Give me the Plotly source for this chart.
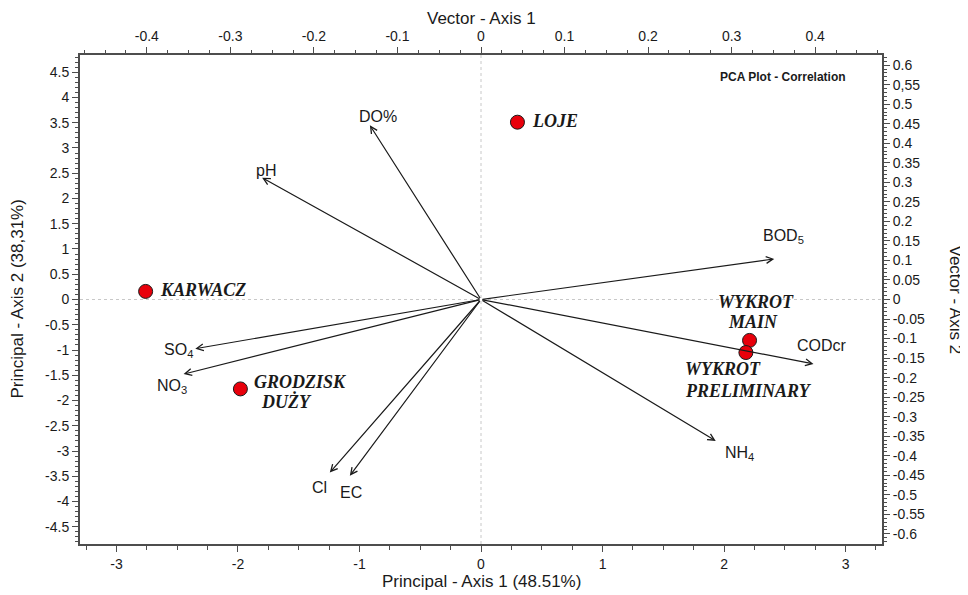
import plotly.graph_objects as go

# ---------------- data ----------------
site_names = ["KARWACZ", "LOJE", "GRODZISK DUŻY", "WYKROT MAIN", "WYKROT PRELIMINARY"]
site_x = [-2.76, 0.30, -1.98, 2.21, 2.18]
site_y = [0.16, 3.51, -1.77, -0.81, -1.05]

vec_names = ["DO%", "pH", "BOD<sub>5</sub>", "CODcr", "NH<sub>4</sub>",
             "SO<sub>4</sub>", "NO<sub>3</sub>", "Cl", "EC"]
vec_x = [-0.133, -0.262, 0.351, 0.398, 0.281, -0.342, -0.356, -0.181, -0.157]
vec_y = [0.446, 0.312, 0.104, -0.165, -0.362, -0.126, -0.191, -0.443, -0.451]

x1_vals = [-3, -2, -1, 0, 1, 2, 3]
x1_text = ["-3", "-2", "-1", "0", "1", "2", "3"]
y1_vals = [4.5, 4, 3.5, 3, 2.5, 2, 1.5, 1, 0.5, 0, -0.5, -1, -1.5, -2, -2.5, -3, -3.5, -4, -4.5]
y1_text = ["4.5", "4", "3.5", "3", "2.5", "2", "1.5", "1", "0.5", "0", "-0.5", "-1", "-1.5",
           "-2", "-2.5", "-3", "-3.5", "-4", "-4.5"]
x2_vals = [-0.4, -0.3, -0.2, -0.1, 0, 0.1, 0.2, 0.3, 0.4]
x2_text = ["-0.4", "-0.3", "-0.2", "-0.1", "0", "0.1", "0.2", "0.3", "0.4"]
y2_vals = [0.6, 0.55, 0.5, 0.45, 0.4, 0.35, 0.3, 0.25, 0.2, 0.15, 0.1, 0.05, 0,
           -0.05, -0.1, -0.15, -0.2, -0.25, -0.3, -0.35, -0.4, -0.45, -0.5, -0.55, -0.6]
y2_text = ["0.6", "0,55", "0.5", "0.45", "0.4", "0.35", "0.3", "0.25", "0.2", "0.15", "0.1",
           "0.05", "0", "-0.05", "-0.1", "-0.15", "-0.2", "-0.25", "-0.3", "-0.35", "-0.4",
           "-0.45", "-0.5", "-0.55", "-0.6"]

# ---------------- style ----------------
AX = "#4d4d4d"
TXT = "#1a1a1a"
SANS = "Liberation Sans, Arial, sans-serif"
SERIF = "Liberation Serif, Times New Roman, serif"

# pixel offsets of vector labels relative to arrow tips
vec_label_shift = [(8, 9), (4, 7), (9, 22), (8, 18), (24, -13), (-17, -2), (-12, -12), (-10, -15), (1, -17)]

# site label lines: (text, xanchor, xshift, yshift)
site_label_lines = [
    [("KARWACZ", "left", 12, 1)],
    [("LOJE", "left", 13, 1)],
    [("GRODZISK", "left", 12, 7), ("DUŻY", "left", 19, -13)],
    [("WYKROT", "center", 6, 38), ("MAIN", "center", 3, 18)],
    [("WYKROT", "left", -63, -16), ("PRELIMINARY", "left", -63, -38)],
]

fig = go.Figure()

fig.add_trace(go.Scatter(
    x=site_x, y=site_y, mode="markers", xaxis="x", yaxis="y",
    marker=dict(color="#e8000b", size=14, line=dict(color=TXT, width=1)),
    text=site_names, hoverinfo="text", showlegend=False,
))
# invisible trace so secondary axes are active
fig.add_trace(go.Scatter(
    x=vec_x, y=vec_y, mode="markers", xaxis="x2", yaxis="y2",
    marker=dict(size=1, opacity=0), hoverinfo="skip", showlegend=False,
))

annotations = []
for name, vx, vy, (dx, dy) in zip(vec_names, vec_x, vec_y, vec_label_shift):
    annotations.append(dict(
        x=vx, y=vy, xref="x2", yref="y2", ax=0, ay=0, axref="x2", ayref="y2",
        text="", showarrow=True, arrowhead=5, arrowsize=1.1, arrowwidth=1.2,
        arrowcolor=TXT, standoff=0, startstandoff=0,
    ))
    annotations.append(dict(
        x=vx, y=vy, xref="x2", yref="y2", text=name, showarrow=False,
        xshift=dx, yshift=dy, font=dict(family=SANS, size=16, color=TXT),
    ))

for sx, sy, lines in zip(site_x, site_y, site_label_lines):
    for txt, anchor, dx, dy in lines:
        annotations.append(dict(
            x=sx, y=sy, xref="x", yref="y", text="<b><i>" + txt + "</i></b>",
            showarrow=False, xanchor=anchor, xshift=dx, yshift=dy,
            font=dict(family=SERIF, size=18, color=TXT),
        ))

annotations.append(dict(
    x=0.958, y=0.955, xref="paper", yref="paper", xanchor="right", yanchor="middle",
    text="<b>PCA Plot - Correlation</b>", showarrow=False,
    font=dict(family=SANS, size=12, color=TXT),
))
# axis titles
annotations.append(dict(
    x=1.0, y=0.5, xref="paper", yref="paper", xanchor="center", yanchor="middle",
    xshift=73, text="Vector - Axis 2", textangle=90, showarrow=False,
    font=dict(family=SANS, size=17, color=TXT),
))
annotations.append(dict(
    x=0.0, y=0.5, xref="paper", yref="paper", xanchor="center", yanchor="middle",
    xshift=-63, text="Principal - Axis 2 (38,31%)", textangle=-90, showarrow=False,
    font=dict(family=SANS, size=17, color=TXT),
))
annotations.append(dict(
    x=0.5, y=1.0, xref="paper", yref="paper", xanchor="center", yanchor="middle",
    yshift=37, text="Vector - Axis 1", showarrow=False,
    font=dict(family=SANS, size=17, color=TXT),
))
annotations.append(dict(
    x=0.5, y=0.0, xref="paper", yref="paper", xanchor="center", yanchor="middle",
    yshift=-37, text="Principal - Axis 1 (48.51%)", showarrow=False,
    font=dict(family=SANS, size=17, color=TXT),
))

shapes = [
    dict(type="line", xref="x", yref="paper", x0=0, x1=0, y0=0, y1=1,
         line=dict(color="#c8c8c8", width=1, dash="dot"), layer="below"),
    dict(type="line", xref="paper", yref="y", x0=0, x1=1, y0=0, y1=0,
         line=dict(color="#c8c8c8", width=1, dash="dot"), layer="below"),
]

common = dict(showgrid=False, zeroline=False, showline=True, linecolor=AX, linewidth=2,
              ticks="outside", tickcolor=AX, tickwidth=1, ticklen=6, automargin=False,
              tickfont=dict(family=SANS, size=14, color=TXT))

# page body adds an 8px offset, so the figure is 8px smaller on each axis
fig.update_layout(
    width=960, height=587,
    margin=dict(l=72, r=86, t=47, b=51),
    paper_bgcolor="white", plot_bgcolor="white",
    showlegend=False,
    xaxis=dict(range=[-3.3, 3.3], tickmode="array", tickvals=x1_vals, ticktext=x1_text,
               minor=dict(tickmode="linear", tick0=0, dtick=0.25, ticklen=4, tickcolor=AX, ticks="outside"),
               **common),
    yaxis=dict(range=[-4.84, 4.84], tickmode="array", tickvals=y1_vals, ticktext=y1_text,
               minor=dict(tickmode="linear", tick0=0, dtick=0.1, ticklen=3, tickcolor=AX, ticks="outside"),
               **common),
    xaxis2=dict(range=[-0.48, 0.48], overlaying="x", side="top", anchor="y",
                tickmode="array", tickvals=x2_vals, ticktext=x2_text,
                minor=dict(tickmode="linear", tick0=0, dtick=0.025, ticklen=3, tickcolor=AX, ticks="outside"),
                **common),
    yaxis2=dict(range=[-0.626, 0.626], overlaying="y", side="right", anchor="x",
                tickmode="array", tickvals=y2_vals, ticktext=y2_text,
                minor=dict(tickmode="linear", tick0=0, dtick=0.01, ticklen=3, tickcolor=AX, ticks="outside"),
                **common),
    annotations=annotations,
    shapes=shapes,
)

fig.write_html("out.html")
